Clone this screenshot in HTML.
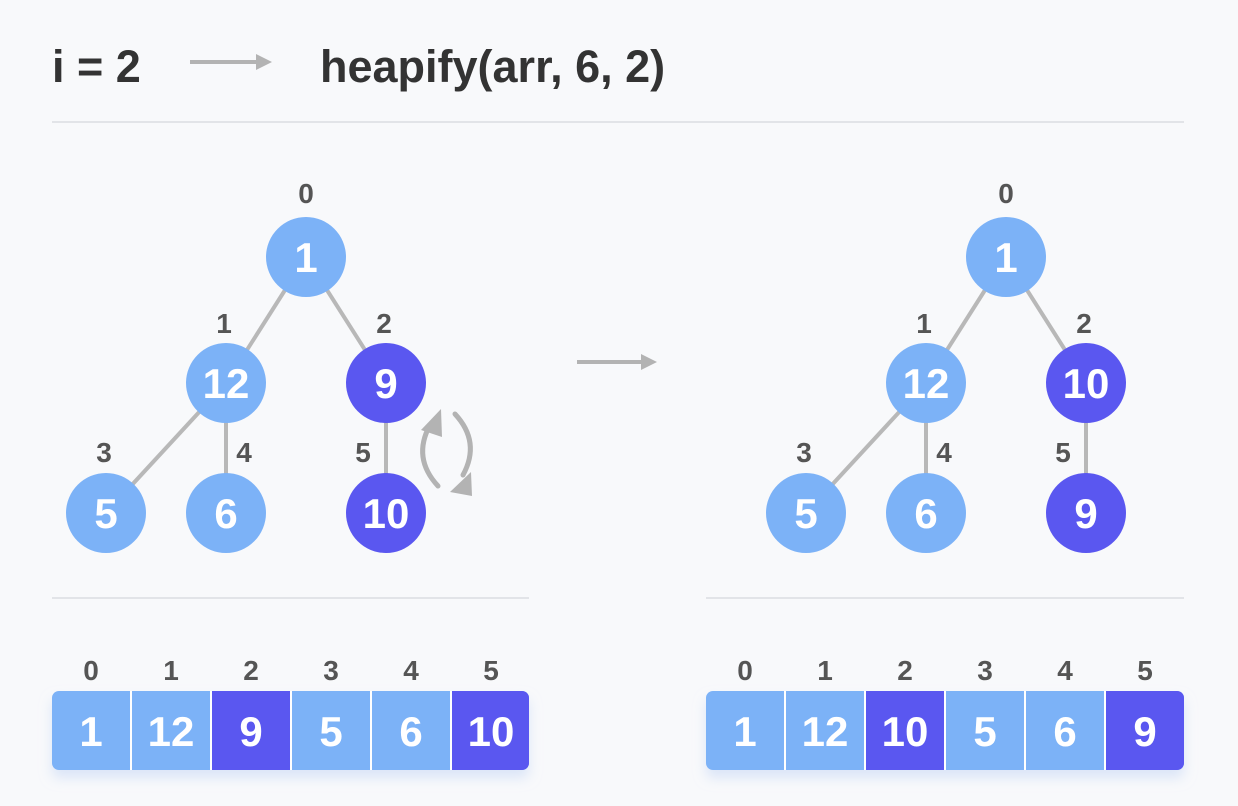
<!DOCTYPE html>
<html><head><meta charset="utf-8"><style>
body{margin:0;background:#f8f9fb;}
svg{display:block}
text{font-family:"Liberation Sans",sans-serif;font-weight:bold}
</style></head><body>
<svg width="1238" height="806" viewBox="0 0 1238 806" xmlns="http://www.w3.org/2000/svg">
<defs>
<filter id="sh" x="-10%" y="-20%" width="120%" height="160%"><feDropShadow dx="0" dy="8" stdDeviation="6" flood-color="#c8d8f5" flood-opacity="0.6"/></filter>
</defs>
<rect width="1238" height="806" fill="#f8f9fb"/>
<text x="52" y="82" font-size="45" fill="#333">i = 2</text>
<line x1="190" y1="62" x2="262" y2="62" stroke="#b3b3b3" stroke-width="4"/>
<path d="M256,54 L272,62 L256,70 z" fill="#b3b3b3"/>
<text x="320" y="82" font-size="45" fill="#333">heapify(arr, 6, 2)</text>
<line x1="52" y1="122" x2="1184" y2="122" stroke="#e2e4e8" stroke-width="2"/>
<line x1="52" y1="598" x2="529" y2="598" stroke="#e2e4e8" stroke-width="2"/>
<line x1="706" y1="598" x2="1184" y2="598" stroke="#e2e4e8" stroke-width="2"/>
<line x1="577" y1="362" x2="645" y2="362" stroke="#b3b3b3" stroke-width="4"/>
<path d="M641,354 L657,362 L641,370 z" fill="#b3b3b3"/>
<g stroke="#b8b8b8" stroke-width="4">
<line x1="306" y1="257" x2="226" y2="383"/><line x1="306" y1="257" x2="386" y2="383"/>
<line x1="226" y1="383" x2="106" y2="513"/><line x1="226" y1="383" x2="226" y2="513"/>
<line x1="386" y1="383" x2="386" y2="513"/>
<line x1="1006" y1="257" x2="926" y2="383"/><line x1="1006" y1="257" x2="1086" y2="383"/>
<line x1="926" y1="383" x2="806" y2="513"/><line x1="926" y1="383" x2="926" y2="513"/>
<line x1="1086" y1="383" x2="1086" y2="513"/>
</g>
<g fill="none" stroke="#b3b3b3" stroke-width="5" stroke-linecap="round">
<path d="M438,486 Q412,458 430,425"/>
<path d="M455,414 Q481,442 463,475"/>
</g>
<path d="M421,430 L441,409 L442,437 z" fill="#b3b3b3"/>
<path d="M450,492 L471,472 L472,496 z" fill="#b3b3b3"/>
<g font-size="28" fill="#555" text-anchor="middle">
<text x="306" y="203">0</text><text x="224" y="333">1</text><text x="384" y="333">2</text>
<text x="104" y="462">3</text><text x="244" y="462">4</text><text x="363" y="462">5</text>
<text x="1006" y="203">0</text><text x="924" y="333">1</text><text x="1084" y="333">2</text>
<text x="804" y="462">3</text><text x="944" y="462">4</text><text x="1063" y="462">5</text>
</g>
<g>
<circle cx="306" cy="257" r="40" fill="#7cb2f7"/><circle cx="226" cy="383" r="40" fill="#7cb2f7"/>
<circle cx="386" cy="383" r="40" fill="#5a57f0"/><circle cx="106" cy="513" r="40" fill="#7cb2f7"/>
<circle cx="226" cy="513" r="40" fill="#7cb2f7"/><circle cx="386" cy="513" r="40" fill="#5a57f0"/>
<circle cx="1006" cy="257" r="40" fill="#7cb2f7"/><circle cx="926" cy="383" r="40" fill="#7cb2f7"/>
<circle cx="1086" cy="383" r="40" fill="#5a57f0"/><circle cx="806" cy="513" r="40" fill="#7cb2f7"/>
<circle cx="926" cy="513" r="40" fill="#7cb2f7"/><circle cx="1086" cy="513" r="40" fill="#5a57f0"/>
</g>
<g font-size="42" fill="#fff" text-anchor="middle">
<text x="306" y="272">1</text><text x="226" y="398">12</text><text x="386" y="398">9</text>
<text x="106" y="528">5</text><text x="226" y="528">6</text><text x="386" y="528">10</text>
<text x="1006" y="272">1</text><text x="926" y="398">12</text><text x="1086" y="398">10</text>
<text x="806" y="528">5</text><text x="926" y="528">6</text><text x="1086" y="528">9</text>
</g>
<rect x="52" y="691" width="477" height="79" rx="7" fill="#7cb2f7" filter="url(#sh)"/>
<rect x="212" y="691" width="78" height="79" fill="#5a57f0"/>
<path d="M452,691 H522 a7,7 0 0 1 7,7 V763 a7,7 0 0 1 -7,7 H452 z" fill="#5a57f0"/>
<rect x="706" y="691" width="478" height="79" rx="7" fill="#7cb2f7" filter="url(#sh)"/>
<rect x="866" y="691" width="79" height="79" fill="#5a57f0"/>
<path d="M1106,691 H1177 a7,7 0 0 1 7,7 V763 a7,7 0 0 1 -7,7 H1106 z" fill="#5a57f0"/>
<g stroke="#fff" stroke-width="2">
<line x1="131" y1="691" x2="131" y2="770"/><line x1="211" y1="691" x2="211" y2="770"/><line x1="291" y1="691" x2="291" y2="770"/><line x1="371" y1="691" x2="371" y2="770"/><line x1="451" y1="691" x2="451" y2="770"/>
<line x1="785" y1="691" x2="785" y2="770"/><line x1="865" y1="691" x2="865" y2="770"/><line x1="945" y1="691" x2="945" y2="770"/><line x1="1025" y1="691" x2="1025" y2="770"/><line x1="1105" y1="691" x2="1105" y2="770"/>
</g>
<g font-size="28" fill="#555" text-anchor="middle">
<text x="91" y="680">0</text><text x="171" y="680">1</text><text x="251" y="680">2</text><text x="331" y="680">3</text><text x="411" y="680">4</text><text x="491" y="680">5</text>
<text x="745" y="680">0</text><text x="825" y="680">1</text><text x="905" y="680">2</text><text x="985" y="680">3</text><text x="1065" y="680">4</text><text x="1145" y="680">5</text>
</g>
<g font-size="42" fill="#fff" text-anchor="middle">
<text x="91" y="746">1</text><text x="171" y="746">12</text><text x="251" y="746">9</text><text x="331" y="746">5</text><text x="411" y="746">6</text><text x="491" y="746">10</text>
<text x="745" y="746">1</text><text x="825" y="746">12</text><text x="905" y="746">10</text><text x="985" y="746">5</text><text x="1065" y="746">6</text><text x="1145" y="746">9</text>
</g>
</svg>
</body></html>
